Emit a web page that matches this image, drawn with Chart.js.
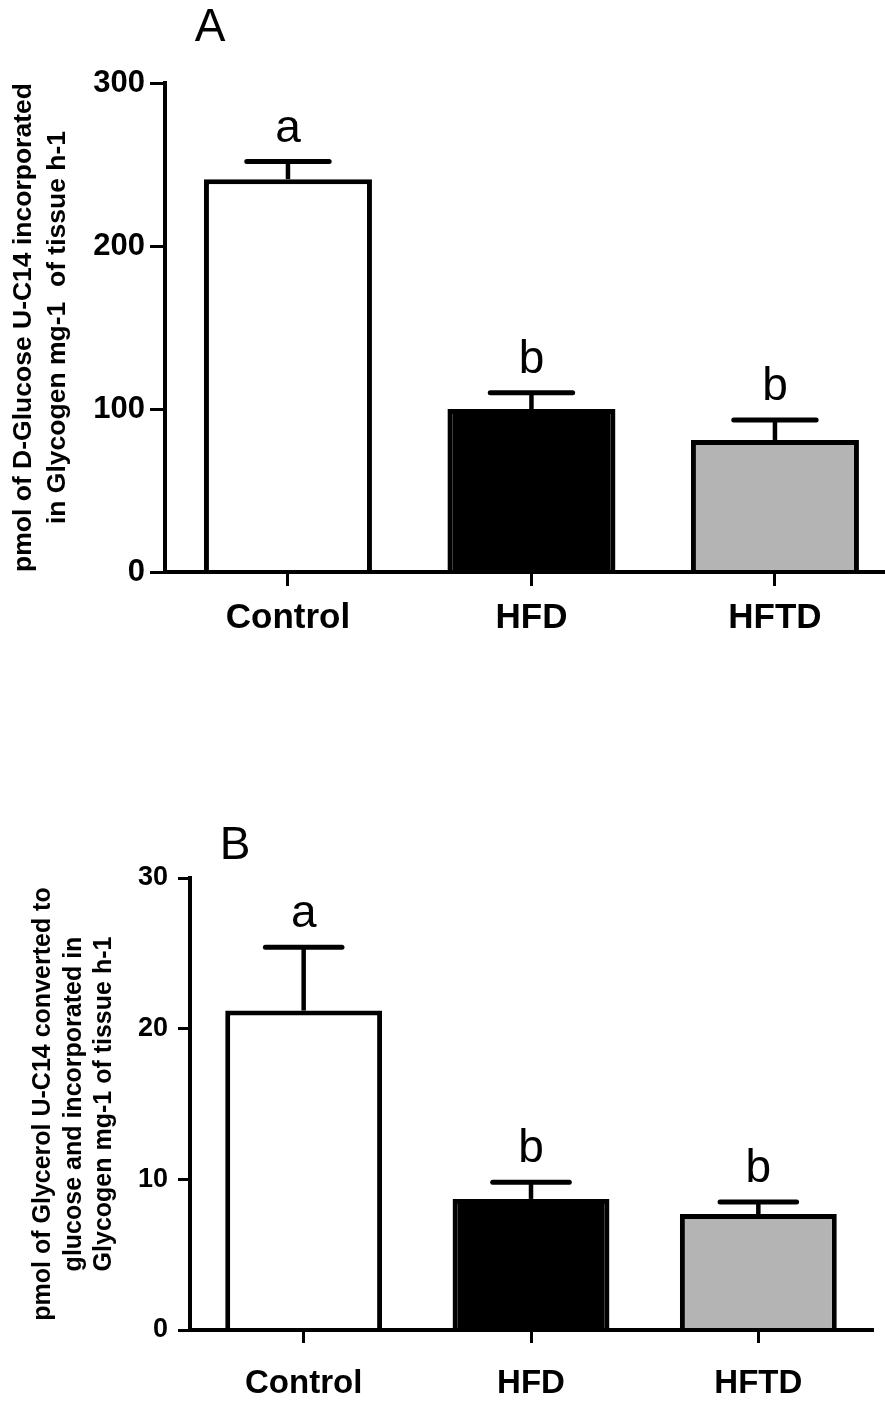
<!DOCTYPE html>
<html>
<head>
<meta charset="utf-8">
<script src="https://cdn.jsdelivr.net/npm/chart.js@4.4.0/dist/chart.umd.min.js"></script>
<style>
  body { margin: 0; background: #fff; }
  .panel { position: absolute; left: 0; width: 885px; }
  #panelA { top: 0; height: 660px; }
  #panelB { top: 700px; height: 705px; }
</style>
</head>
<body>
<div class="panel" id="panelA"><canvas id="chartA"></canvas></div>
<div class="panel" id="panelB"><canvas id="chartB"></canvas></div>
<script>
var groups = ['Control', 'HFD', 'HFTD'];
var barColors = ['#ffffff', '#000000', '#b4b4b4'];

// A: D-Glucose U-C14 into glycogen
var glucoseMean = [241, 100, 81];
var glucoseSem = [10.8, 10, 12.3];
var glucoseLetters = ['a', 'b', 'b'];
var glucoseTicks = [0, 100, 200, 300];
var glucoseTitle = ['pmol of D-Glucose U-C14 incorporated', 'in Glycogen mg-1  of tissue h-1'];

// B: Glycerol U-C14 into glucose / glycogen
var glycerolMean = [21.2, 8.7, 7.7];
var glycerolSem = [4.2, 1.1, 0.8];
var glycerolLetters = ['a', 'b', 'b'];
var glycerolTicks = [0, 10, 20, 30];
var glycerolTitle = ['pmol of Glycerol U-C14 converted to', 'glucose and incorporated in', 'Glycogen mg-1 of tissue h-1'];

var FONT = "'Liberation Sans', Arial, sans-serif";

// error bars, significance letters and the panel letter
var errorBars = {
    id: 'errorBars',
    afterDatasetsDraw: function (chart, args, opts) {
        var ctx = chart.ctx;
        var y = chart.scales.y;
        var meta = chart.getDatasetMeta(0);
        var data = chart.data.datasets[0].data;
        ctx.save();
        ctx.strokeStyle = '#000';
        ctx.fillStyle = '#000';
        meta.data.forEach(function (bar, i) {
            var capY = y.getPixelForValue(data[i].y + opts.sem[i]);
            var half = bar.width * 0.26;
            ctx.lineWidth = 4.5;
            ctx.lineCap = 'butt';
            ctx.beginPath();
            ctx.moveTo(bar.x, bar.y);
            ctx.lineTo(bar.x, capY);
            ctx.stroke();
            ctx.lineWidth = 5;
            ctx.lineCap = 'round';
            ctx.beginPath();
            ctx.moveTo(bar.x - half + 2.5, capY);
            ctx.lineTo(bar.x + half - 2.5, capY);
            ctx.stroke();
            ctx.font = '46px ' + FONT;
            ctx.textAlign = 'center';
            ctx.textBaseline = 'alphabetic';
            ctx.fillText(opts.letters[i], bar.x, capY - 20);
        });
        ctx.font = '46px ' + FONT;
        ctx.textAlign = 'center';
        ctx.textBaseline = 'middle';
        ctx.fillText(opts.panel, opts.panelX, opts.panelY);
        ctx.restore();
    }
};

function makePanel(id, p) {
    return new Chart(document.getElementById(id), {
        type: 'bar',
        data: {
            datasets: [{
                data: groups.map(function (g, i) { return { x: i + 1, y: p.mean[i] }; }),
                backgroundColor: barColors,
                borderColor: '#000000',
                borderWidth: 5,
                barPercentage: 0.69,
                categoryPercentage: 1
            }]
        },
        options: {
            responsive: true,
            maintainAspectRatio: false,
            animation: false,
            layout: { padding: { top: p.top, right: p.right, bottom: 0, left: 0 } },
            plugins: {
                legend: { display: false },
                tooltip: { enabled: false },
                errorBars: { sem: p.sem, letters: p.letters, panel: p.panel, panelX: p.panelX, panelY: p.panelY }
            },
            scales: {
                x: {
                    type: 'linear',
                    offset: false,
                    min: p.xMin,
                    max: p.xMax,
                    afterBuildTicks: function (s) {
                        s.ticks = groups.map(function (g, i) { return { value: i + 1 }; });
                    },
                    afterFit: function (s) { s.height = p.xHeight; },
                    ticks: {
                        autoSkip: false,
                        maxRotation: 0,
                        padding: p.xPad,
                        color: '#000',
                        font: { family: FONT, size: p.xFont, weight: 'bold' },
                        callback: function (v) { return groups[v - 1]; }
                    },
                    grid: { offset: false, drawOnChartArea: false, tickLength: p.xTick, tickWidth: 3, tickColor: '#000', lineWidth: 3 },
                    border: { color: '#000', width: 4, z: 1 }
                },
                y: {
                    min: 0,
                    max: p.ticks[p.ticks.length - 1],
                    afterBuildTicks: function (s) {
                        s.ticks = p.ticks.map(function (v) { return { value: v }; });
                    },
                    afterFit: function (s) { s.width = p.yWidth; },
                    ticks: {
                        padding: p.yPad,
                        color: '#000',
                        font: { family: FONT, size: p.yFont, weight: 'bold' }
                    },
                    grid: { drawOnChartArea: false, tickLength: p.yTick, tickWidth: 3, tickColor: '#000', lineWidth: 3 },
                    border: { color: '#000', width: 4, z: 1 },
                    title: {
                        display: true,
                        text: p.title,
                        color: '#000',
                        padding: { top: p.titlePad },
                        font: { family: FONT, size: p.titleFont, weight: 'bold', lineHeight: p.titleLine + 'px' }
                    }
                }
            }
        },
        plugins: [errorBars]
    });
}

makePanel('chartA', {
    mean: glucoseMean, sem: glucoseSem, letters: glucoseLetters, ticks: glucoseTicks, title: glucoseTitle,
    panel: 'A', panelX: 210, panelY: 28,
    top: 83, right: 0, xHeight: 88, yWidth: 165,
    xMin: 0.495, xMax: 3.452,
    xPad: 11, xFont: 35, xTick: 14,
    yPad: 5, yFont: 31, yTick: 15,
    titleFont: 26.5, titleLine: 34, titlePad: 7
});

makePanel('chartB', {
    mean: glycerolMean, sem: glycerolSem, letters: glycerolLetters, ticks: glycerolTicks, title: glycerolTitle,
    panel: 'B', panelX: 235, panelY: 146,
    top: 178, right: 13, xHeight: 75, yWidth: 190,
    xMin: 0.5, xMax: 3.5,
    xPad: 21, xFont: 33, xTick: 13,
    yPad: 10, yFont: 27, yTick: 12,
    titleFont: 25, titleLine: 30.5, titlePad: 28
});
</script>
</body>
</html>
